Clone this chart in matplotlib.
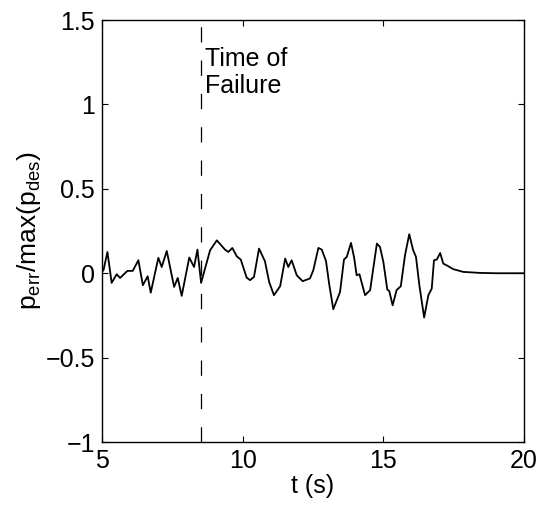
import numpy as np
from matplotlib import pyplot as plt

# error trace (time in s, normalised error)
t = [5.0, 5.05, 5.19, 5.34, 5.52, 5.64, 5.90, 6.09, 6.29, 6.45, 6.62, 6.73,
     7.0, 7.12, 7.30, 7.56, 7.69, 7.83, 8.10, 8.27, 8.39, 8.52, 8.84, 9.08,
     9.37, 9.49, 9.63, 9.79, 9.93, 10.14, 10.26, 10.40, 10.58, 10.79, 10.94,
     11.11, 11.33, 11.51, 11.62, 11.74, 11.92, 12.13, 12.39, 12.51, 12.69,
     12.81, 12.96, 13.08, 13.22, 13.46, 13.60, 13.70, 13.85, 13.96, 14.05,
     14.15, 14.35, 14.53, 14.77, 14.88, 15.0, 15.14, 15.21, 15.33, 15.47,
     15.62, 15.77, 15.92, 16.06, 16.16, 16.28, 16.45, 16.60, 16.72, 16.80,
     16.90, 17.02, 17.13, 17.25, 17.49, 17.84, 18.44, 19.0, 20.0]
p_err = [0.01, 0.018, 0.126, -0.057, -0.006, -0.028, 0.014, 0.014, 0.077,
         -0.071, -0.018, -0.115, 0.091, 0.037, 0.132, -0.081, -0.028, -0.134,
         0.093, 0.037, 0.140, -0.057, 0.136, 0.195, 0.140, 0.126, 0.150,
         0.100, 0.081, -0.026, -0.041, -0.022, 0.146, 0.071, -0.052, -0.130,
         -0.077, 0.087, 0.037, 0.077, -0.012, -0.047, -0.031, 0.018, 0.150,
         0.140, 0.073, -0.071, -0.213, -0.111, 0.081, 0.097, 0.180, 0.093,
         -0.012, -0.006, -0.130, -0.100, 0.176, 0.156, 0.067, -0.097, -0.105,
         -0.190, -0.100, -0.077, 0.107, 0.231, 0.136, 0.097, -0.071, -0.262,
         -0.130, -0.091, 0.077, 0.081, 0.120, 0.057, 0.047, 0.024, 0.008,
         0.002, 0.0, 0.0]

t_fail = 8.5
x_ticks = [5, 10, 15, 20]
y_ticks = [-1, -0.5, 0, 0.5, 1, 1.5]
y_tick_labels = ['\u22121', '\u22120.5', '0', '0.5', '1', '1.5']

plt.rcParams['font.family'] = ['Liberation Sans', 'DejaVu Sans']
plt.rcParams['mathtext.default'] = 'regular'
plt.rcParams['lines.scale_dashes'] = False

fig = plt.figure(figsize=(5.43, 5.14), dpi=100)
ax = fig.add_axes([0.188, 0.140, 0.777, 0.821])

ax.plot(t, p_err, color='black', linewidth=1.3)
ax.axvline(t_fail, color='black', linewidth=0.9, dashes=(11, 13))
ax.text(t_fail + 0.15, 1.34, 'Time of\nFailure', fontsize=18, va='top',
        ha='left', linespacing=1.15)

ax.set_xlim(5, 20)
ax.set_ylim(-1, 1.5)
ax.set_xticks(x_ticks)
ax.set_yticks(y_ticks)
ax.set_yticklabels(y_tick_labels)
ax.tick_params(direction='in', length=4, width=0.8, top=True, right=True,
               labelsize=18, pad=5)
for s in ax.spines.values():
    s.set_linewidth(1.0)

ax.set_xlabel('t (s)', fontsize=18, labelpad=1)
ax.set_ylabel(r'p$_{err}$/max(p$_{des}$)', fontsize=19, labelpad=2)

fig.savefig('out.png', dpi=100)
